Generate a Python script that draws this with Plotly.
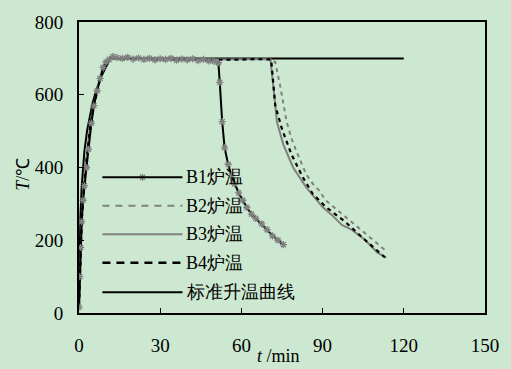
import plotly.graph_objects as go

# ---- data (time in min, temperature in ℃) ----
std_t = [0, 0.5, 1, 2, 3, 4, 5, 6, 7, 8, 9, 10, 11, 11.6, 120]
std_T = [20, 261, 349, 445, 502, 544, 576, 603, 626, 645, 662, 678, 691, 700, 700]

b1_t = [0, 0.3, 0.6, 1, 1.5, 2, 2.8, 3.5, 4.6, 5.5, 6.7, 7.8, 8.9, 10, 11.2, 12.5, 14, 16,
        18, 20, 22, 24, 26, 28, 30, 32, 34, 36, 38, 40, 42, 44, 46, 48, 50, 51.5, 52,
        52.9, 53.8, 55.1, 56.3, 57.5, 59, 60.5, 62, 63.7, 65.3, 67.5, 69.5, 71.5, 73.5, 75.5]
b1_T = [16, 100, 180, 251, 310, 350, 400, 450, 522, 570, 611, 645, 675, 690, 697, 705, 702, 700,
        703, 698, 701, 697, 700, 696, 699, 697, 700, 695, 698, 696, 699, 694, 697, 693, 692, 688, 634,
        526, 454, 409, 378, 355, 330, 310, 290, 272, 260, 245, 229, 212, 200, 188]

b2_t = [0, 0.5, 1, 2, 3, 4, 5, 6, 7, 8, 9, 10, 11, 12, 14, 20, 30, 40, 50, 60, 65, 70,
        72.5, 74.3, 76.7, 78.5, 80.3, 83.9, 86.3, 88.7, 91.1, 94.7, 98.3, 101.9, 105.5,
        109.1, 112.7, 113.5]
b2_T = [20, 150, 250, 360, 440, 500, 545, 585, 620, 648, 670, 688, 697, 703, 701, 699, 698, 697,
        696, 697, 698, 699, 690, 625, 526, 480, 445, 382, 356, 337, 310, 288, 265, 243, 220,
        198, 175, 165]

b3_t = [0, 0.5, 1, 2, 3, 4, 5, 6, 7, 8, 9, 10, 11, 12, 14, 20, 30, 40, 50, 60, 65, 70.7,
        71.9, 73.1, 75.5, 79.1, 83.9, 89.9, 93.5, 97.1, 100.7, 105.5, 110.3, 113.5]
b3_T = [20, 160, 260, 370, 450, 510, 555, 592, 625, 650, 672, 688, 698, 703, 700, 698, 699, 696,
        697, 697, 699, 698, 616, 526, 463, 400, 346, 292, 269, 242, 229, 202, 166, 152]

b4_t = [0, 0.5, 1, 2, 3, 4, 5, 6, 7, 8, 9, 10, 11, 12, 14, 20, 30, 40, 50, 60, 65, 71,
        72.5, 74.9, 78.5, 82.7, 86.3, 91.1, 98.3, 105.5, 112.2, 113]
b4_T = [20, 155, 255, 365, 445, 505, 550, 590, 622, 648, 670, 687, 697, 702, 701, 699, 697, 698,
        696, 697, 698, 697, 571, 508, 436, 373, 328, 292, 251, 202, 157, 153]

legend_names = ["B1炉温", "B2炉温", "B3炉温", "B4炉温", "标准升温曲线"]
x_ticks = [0, 30, 60, 90, 120, 150]
y_ticks = [0, 200, 400, 600, 800]

BG = "#cde8d0"
GRAY = "#808080"
SERIF = "Liberation Serif"

STAR = dict(symbol="asterisk-open", size=6, color=GRAY, line=dict(color=GRAY, width=1.3))

fig = go.Figure()

fig.add_trace(go.Scatter(x=std_t, y=std_T, mode="lines",
                         line=dict(color="black", width=2), showlegend=False))
fig.add_trace(go.Scatter(x=b3_t, y=b3_T, mode="lines",
                         line=dict(color=GRAY, width=2), showlegend=False))
fig.add_trace(go.Scatter(x=b2_t, y=b2_T, mode="lines",
                         line=dict(color=GRAY, width=2, dash="4px,4px"), showlegend=False))
fig.add_trace(go.Scatter(x=b4_t, y=b4_T, mode="lines",
                         line=dict(color="black", width=2.2, dash="4px,4px"), showlegend=False))
fig.add_trace(go.Scatter(x=b1_t, y=b1_T, mode="lines+markers",
                         line=dict(color="black", width=2), marker=STAR,
                         showlegend=False))

# hand-placed legend block inside the plot (paper coordinates)
L, R = 416.0, 296.0  # plot width / height in px
x0 = (103 - 79) / L
x1 = (185 - 79) / L
xt = (187 - 79) / L
rows_px = [175, 204, 233, 262, 292]
styles = [
    dict(color="black", width=2),
    dict(color=GRAY, width=2, dash="7px,6px"),
    dict(color=GRAY, width=2),
    dict(color="black", width=2.5, dash="8px,6px"),
    dict(color="black", width=2),
]
shapes = []
annotations = []
for name, ypx, st in zip(legend_names, rows_px, styles):
    yp = (313 - ypx) / R
    shapes.append(dict(type="line", xref="paper", yref="paper",
                       x0=x0, x1=x1, y0=yp, y1=yp, line=st))
    annotations.append(dict(text=name, xref="paper", yref="paper", x=xt, y=yp,
                            xanchor="left", yanchor="middle", showarrow=False,
                            font=dict(family=SERIF, size=18, color="black")))
# marker sample on the B1 legend line
fig.add_trace(go.Scatter(x=[(x0 + x1) / 2], y=[(313 - rows_px[0]) / R],
                         xaxis="x2", yaxis="y2", mode="markers", marker=STAR,
                         showlegend=False, hoverinfo="skip"))

annotations.append(dict(text="<i>T</i>/℃", xref="paper", yref="paper",
                        x=(22 - 79) / L, y=(313 - 172) / R, textangle=-90,
                        xanchor="center", yanchor="middle", showarrow=False,
                        font=dict(family=SERIF, size=18, color="black")))
annotations.append(dict(text="<i>t</i> /min", xref="paper", yref="paper",
                        x=(283 - 79) / L, y=(313 - 357) / R,
                        xanchor="center", yanchor="middle", showarrow=False,
                        font=dict(family=SERIF, size=18, color="black")))

axis_common = dict(showgrid=False, zeroline=False, showline=True, linecolor="black",
                   linewidth=2, mirror=True, ticks="inside", ticklen=5, tickwidth=1,
                   tickcolor="black",
                   tickfont=dict(family=SERIF, size=19, color="black"))

fig.update_layout(
    width=511, height=369,
    margin=dict(l=79, r=16, t=17, b=56),
    paper_bgcolor=BG, plot_bgcolor=BG,
    font=dict(family=SERIF),
    xaxis=dict(range=[0, 150], tickvals=x_ticks, ticklabelstandoff=14, **axis_common),
    yaxis=dict(range=[0, 800], tickvals=y_ticks, ticklabelstandoff=10, **axis_common),
    xaxis2=dict(range=[0, 1], overlaying="x", visible=False),
    yaxis2=dict(range=[0, 1], overlaying="y", visible=False),
    shapes=shapes, annotations=annotations,
    showlegend=False,
)

fig.write_html("out.html")
